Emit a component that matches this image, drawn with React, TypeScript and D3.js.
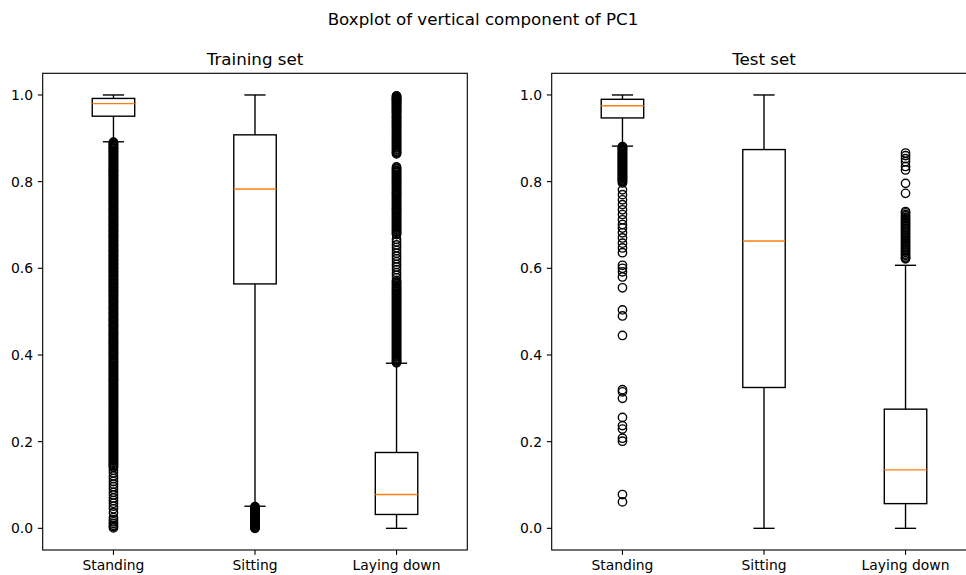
import React from "react";
import * as d3 from "d3";

// Activity categories shown on each panel
const categories = ["Standing", "Sitting", "Laying down"];
const yTicks = [0.0, 0.2, 0.4, 0.6, 0.8, 1.0];

// Box statistics per category: [lower whisker, Q1, median, Q3, upper whisker]
const trainStats: number[][] = [
  [0.892, 0.951, 0.98, 0.992, 1.0],
  [0.051, 0.564, 0.783, 0.908, 1.0],
  [0.0, 0.032, 0.078, 0.175, 0.381],
];
const testStats: number[][] = [
  [0.882, 0.947, 0.975, 0.99, 1.0],
  [0.0, 0.325, 0.663, 0.874, 1.0],
  [0.0, 0.057, 0.135, 0.275, 0.607],
];

// Outliers (fliers) per category
const trainStandingOut = [
  0.891, 0.887, 0.884, 0.879, 0.876, 0.871, 0.868, 0.863, 0.859, 0.856, 0.851, 0.847, 0.844, 0.839, 0.835,
  0.831, 0.827, 0.824, 0.819, 0.815, 0.812, 0.807, 0.803, 0.799, 0.795, 0.791, 0.787, 0.783, 0.779, 0.774,
  0.771, 0.766, 0.762, 0.758, 0.754, 0.75, 0.746, 0.741, 0.737, 0.733, 0.729, 0.725, 0.72, 0.716, 0.712,
  0.708, 0.703, 0.699, 0.695, 0.69, 0.686, 0.682, 0.677, 0.673, 0.669, 0.664, 0.66, 0.655, 0.651, 0.647,
  0.642, 0.638, 0.634, 0.629, 0.625, 0.62, 0.616, 0.611, 0.607, 0.602, 0.598, 0.593, 0.589, 0.584, 0.58,
  0.575, 0.571, 0.566, 0.562, 0.557, 0.553, 0.548, 0.544, 0.539, 0.535, 0.53, 0.525, 0.521, 0.516, 0.511,
  0.507, 0.502, 0.497, 0.493, 0.488, 0.483, 0.479, 0.474, 0.469, 0.465, 0.46, 0.455, 0.45, 0.446, 0.441,
  0.436, 0.431, 0.427, 0.422, 0.417, 0.412, 0.407, 0.403, 0.398, 0.393, 0.388, 0.383, 0.379, 0.374, 0.369,
  0.364, 0.359, 0.354, 0.349, 0.344, 0.34, 0.335, 0.33, 0.325, 0.32, 0.315, 0.31, 0.305, 0.3, 0.295, 0.29,
  0.285, 0.28, 0.275, 0.27, 0.265, 0.26, 0.255, 0.25, 0.245, 0.24, 0.235, 0.23, 0.225, 0.22, 0.215, 0.21,
  0.205, 0.2, 0.195, 0.19, 0.185, 0.18, 0.175, 0.17, 0.165, 0.16, 0.155, 0.15, 0.145, 0.14, 0.134, 0.128,
  0.121, 0.115, 0.108, 0.102, 0.096, 0.09, 0.083, 0.077, 0.07, 0.064, 0.058, 0.051, 0.045, 0.036, 0.025,
  0.02, 0.015, 0.011, 0.007, 0.004, 0.001,
  0.889, 0.885, 0.881, 0.877, 0.873, 0.869, 0.865, 0.861, 0.857, 0.853, 0.849, 0.845, 0.841, 0.837, 0.833,
  0.829, 0.825, 0.821, 0.817, 0.813, 0.809, 0.805, 0.801, 0.797, 0.793, 0.789, 0.785, 0.781, 0.777, 0.772,
  0.768, 0.764, 0.76, 0.756, 0.752, 0.748, 0.744, 0.739, 0.735, 0.731, 0.727, 0.722, 0.718, 0.714, 0.71,
  0.705, 0.701, 0.697, 0.692, 0.688, 0.684, 0.679, 0.675, 0.671, 0.666, 0.662, 0.657, 0.653, 0.649, 0.644,
  0.64, 0.636, 0.631, 0.627, 0.622, 0.618, 0.613, 0.609, 0.604, 0.6, 0.595, 0.591, 0.586, 0.582, 0.577,
  0.573, 0.568, 0.564, 0.559, 0.555, 0.55, 0.546, 0.541, 0.537, 0.532, 0.527, 0.523, 0.518, 0.513, 0.509,
  0.504, 0.499, 0.495, 0.49, 0.485, 0.481, 0.476, 0.471, 0.467, 0.462, 0.457, 0.452, 0.448, 0.443, 0.438,
  0.433, 0.429, 0.424, 0.419, 0.414, 0.409, 0.405, 0.4, 0.395, 0.39, 0.385, 0.381, 0.376, 0.371, 0.366,
  0.361, 0.356, 0.351, 0.346, 0.342, 0.337, 0.332, 0.327, 0.322, 0.317, 0.312, 0.307, 0.302, 0.297, 0.292,
  0.287, 0.282, 0.277, 0.272, 0.267, 0.262, 0.257, 0.252, 0.247, 0.242, 0.237, 0.232, 0.227, 0.222, 0.217,
  0.212, 0.207, 0.202, 0.197, 0.192, 0.187, 0.182, 0.177, 0.172, 0.167, 0.162, 0.157, 0.152, 0.147, 0.142,
];
const trainSittingOut = [
  0.049, 0.046, 0.043, 0.04, 0.037, 0.034, 0.031, 0.028, 0.025, 0.022, 0.019, 0.016, 0.013, 0.01, 0.008,
  0.005, 0.003, 0.001, 0.0, 0.05, 0.047, 0.044, 0.041, 0.038, 0.035, 0.032, 0.029, 0.026, 0.023, 0.02,
  0.017, 0.014, 0.011, 0.006, 0.002,
];
const trainLayingOut = [
  0.998, 0.995, 0.992, 0.989, 0.986, 0.982, 0.979, 0.975, 0.971, 0.967, 0.963, 0.959, 0.955, 0.95, 0.946,
  0.941, 0.937, 0.932, 0.927, 0.923, 0.918, 0.913, 0.908, 0.903, 0.898, 0.893, 0.888, 0.883, 0.878, 0.873,
  0.868, 0.864, 0.834, 0.829, 0.824, 0.82, 0.815, 0.81, 0.805, 0.8, 0.796, 0.791, 0.786, 0.781, 0.776,
  0.772, 0.767, 0.762, 0.757, 0.752, 0.747, 0.742, 0.737, 0.733, 0.728, 0.723, 0.718, 0.713, 0.708, 0.703,
  0.698, 0.693, 0.688, 0.683, 0.678, 0.667, 0.661, 0.654, 0.648, 0.641, 0.635, 0.628, 0.622, 0.615, 0.609,
  0.603, 0.597, 0.59, 0.584, 0.578, 0.572, 0.567, 0.561, 0.556, 0.551, 0.546, 0.541, 0.536, 0.531, 0.526,
  0.521, 0.516, 0.511, 0.506, 0.501, 0.496, 0.491, 0.486, 0.481, 0.476, 0.471, 0.466, 0.461, 0.456, 0.451,
  0.446, 0.441, 0.436, 0.431, 0.426, 0.421, 0.416, 0.411, 0.406, 0.401, 0.396, 0.391, 0.386, 0.382,
  0.997, 0.993, 0.99, 0.987, 0.984, 0.98, 0.977, 0.973, 0.969, 0.965, 0.961, 0.957, 0.952, 0.948, 0.943,
  0.939, 0.934, 0.93, 0.925, 0.92, 0.915, 0.91, 0.905, 0.9, 0.895, 0.89, 0.885, 0.88, 0.875, 0.87, 0.866,
  0.831, 0.826, 0.822, 0.817, 0.812, 0.807, 0.802, 0.798, 0.793, 0.788, 0.783, 0.778, 0.774, 0.769, 0.764,
  0.759, 0.754, 0.749, 0.744, 0.739, 0.735, 0.73, 0.725, 0.72, 0.715, 0.71, 0.705, 0.7, 0.695, 0.69, 0.685,
  0.68, 0.569, 0.564, 0.558, 0.553, 0.548, 0.543, 0.538, 0.533, 0.528, 0.523, 0.518, 0.513, 0.508, 0.503,
  0.498, 0.493, 0.488, 0.483, 0.478, 0.473, 0.468, 0.463, 0.458, 0.453, 0.448, 0.443, 0.438, 0.433, 0.428,
  0.423, 0.418, 0.413, 0.408, 0.403, 0.398, 0.393, 0.388, 0.384,
];
const testStandingOut = [
  0.879, 0.876, 0.872, 0.868, 0.864, 0.86, 0.856, 0.852, 0.848, 0.844, 0.84, 0.836, 0.832, 0.828, 0.824,
  0.82, 0.816, 0.812, 0.808, 0.804, 0.8, 0.797, 0.781, 0.77, 0.758, 0.747, 0.735, 0.724, 0.712, 0.701,
  0.693, 0.682, 0.67, 0.658, 0.647, 0.636, 0.607, 0.6, 0.592, 0.58, 0.555, 0.504, 0.49, 0.445, 0.32,
  0.315, 0.3, 0.256, 0.237, 0.229, 0.208, 0.201, 0.078, 0.061,
  0.881, 0.878, 0.874, 0.87, 0.866, 0.862, 0.858, 0.854, 0.85, 0.846, 0.842, 0.838, 0.834, 0.83, 0.826,
  0.822, 0.818, 0.814, 0.81, 0.806, 0.802,
];
const testSittingOut: number[] = [];
const testLayingOut = [
  0.866, 0.86, 0.853, 0.846, 0.835, 0.827, 0.796, 0.773, 0.731, 0.724, 0.717, 0.71, 0.703, 0.696, 0.689,
  0.682, 0.675, 0.668, 0.661, 0.654, 0.647, 0.64, 0.633, 0.626, 0.622,
  0.728, 0.721, 0.714, 0.707, 0.7, 0.693, 0.686, 0.679, 0.672, 0.665, 0.658, 0.651, 0.644, 0.637, 0.63,
  0.624,
];

const W = 966;
const H = 575;
const FONT = "DejaVu Sans, sans-serif";
const LW = 1.39; // 1pt at 100 dpi
const SPINE = 1.11;
const ORANGE = "#ff7f0e";

const top = 73.3;
const bottom = 550;
const axWidth = 424.6;

interface PanelProps {
  x0: number;
  title: string;
  stats: number[][];
  fliers: number[][];
}

function Panel({ x0, title, stats, fliers }: PanelProps) {
  const x = d3.scaleLinear().domain([0.5, 3.5]).range([x0, x0 + axWidth]);
  const y = d3.scaleLinear().domain([-0.05, 1.05]).range([bottom, top]);
  const boxW = x(1.3) - x(1.0); // box width 0.3 in data units
  const capW = boxW / 2;
  const tickLen = 4.86;
  const pad = 4.86;

  return (
    <g>
      {/* title */}
      <text
        x={(x.range()[0] + x.range()[1]) / 2}
        y={top - 8.3}
        textAnchor="middle"
        fontSize={16.7}
        fontFamily={FONT}
        fill="#000"
      >
        {title}
      </text>

      {/* boxes */}
      {stats.map((s, i) => {
        const cx = x(i + 1);
        const [lo, q1, med, q3, hi] = s;
        return (
          <g key={categories[i]}>
            <rect
              x={cx - boxW / 2}
              y={y(q3)}
              width={boxW}
              height={y(q1) - y(q3)}
              fill="none"
              stroke="#000"
              strokeWidth={LW}
            />
            <line x1={cx} x2={cx} y1={y(q1)} y2={y(lo)} stroke="#000" strokeWidth={LW} />
            <line x1={cx} x2={cx} y1={y(q3)} y2={y(hi)} stroke="#000" strokeWidth={LW} />
            <line x1={cx - capW / 2} x2={cx + capW / 2} y1={y(lo)} y2={y(lo)} stroke="#000" strokeWidth={LW} />
            <line x1={cx - capW / 2} x2={cx + capW / 2} y1={y(hi)} y2={y(hi)} stroke="#000" strokeWidth={LW} />
            <line x1={cx - boxW / 2} x2={cx + boxW / 2} y1={y(med)} y2={y(med)} stroke={ORANGE} strokeWidth={LW} />
            {fliers[i].map((v, j) => (
              <circle key={j} cx={cx} cy={y(v)} r={4.17} fill="none" stroke="#000" strokeWidth={LW} />
            ))}
          </g>
        );
      })}

      {/* spines */}
      <rect
        x={x0}
        y={top}
        width={axWidth}
        height={bottom - top}
        fill="none"
        stroke="#000"
        strokeWidth={SPINE}
      />

      {/* y ticks */}
      {yTicks.map((t) => (
        <g key={t}>
          <line x1={x0} x2={x0 - tickLen} y1={y(t)} y2={y(t)} stroke="#000" strokeWidth={SPINE} />
          <text
            x={x0 - tickLen - pad}
            y={y(t)}
            dy="0.35em"
            textAnchor="end"
            fontSize={13.9}
            fontFamily={FONT}
            fill="#000"
          >
            {d3.format(".1f")(t)}
          </text>
        </g>
      ))}

      {/* x ticks */}
      {categories.map((c, i) => (
        <g key={c}>
          <line x1={x(i + 1)} x2={x(i + 1)} y1={bottom} y2={bottom + tickLen} stroke="#000" strokeWidth={SPINE} />
          <text
            x={x(i + 1)}
            y={bottom + tickLen + pad + 10.6}
            textAnchor="middle"
            fontSize={13.9}
            fontFamily={FONT}
            fill="#000"
          >
            {c}
          </text>
        </g>
      ))}
    </g>
  );
}

export default function App() {
  return (
    <svg
      width={W}
      height={H}
      viewBox={`0 0 ${W} ${H}`}
      style={{ position: "absolute", left: 0, top: 0, background: "#fff" }}
    >
      <rect x={0} y={0} width={W} height={H} fill="#fff" />
      <text x={483} y={25} textAnchor="middle" fontSize={16.7} fontFamily={FONT} fill="#000">
        Boxplot of vertical component of PC1
      </text>
      <Panel
        x0={42.7}
        title="Training set"
        stats={trainStats}
        fliers={[trainStandingOut, trainSittingOut, trainLayingOut]}
      />
      <Panel
        x0={551.7}
        title="Test set"
        stats={testStats}
        fliers={[testStandingOut, testSittingOut, testLayingOut]}
      />
    </svg>
  );
}
